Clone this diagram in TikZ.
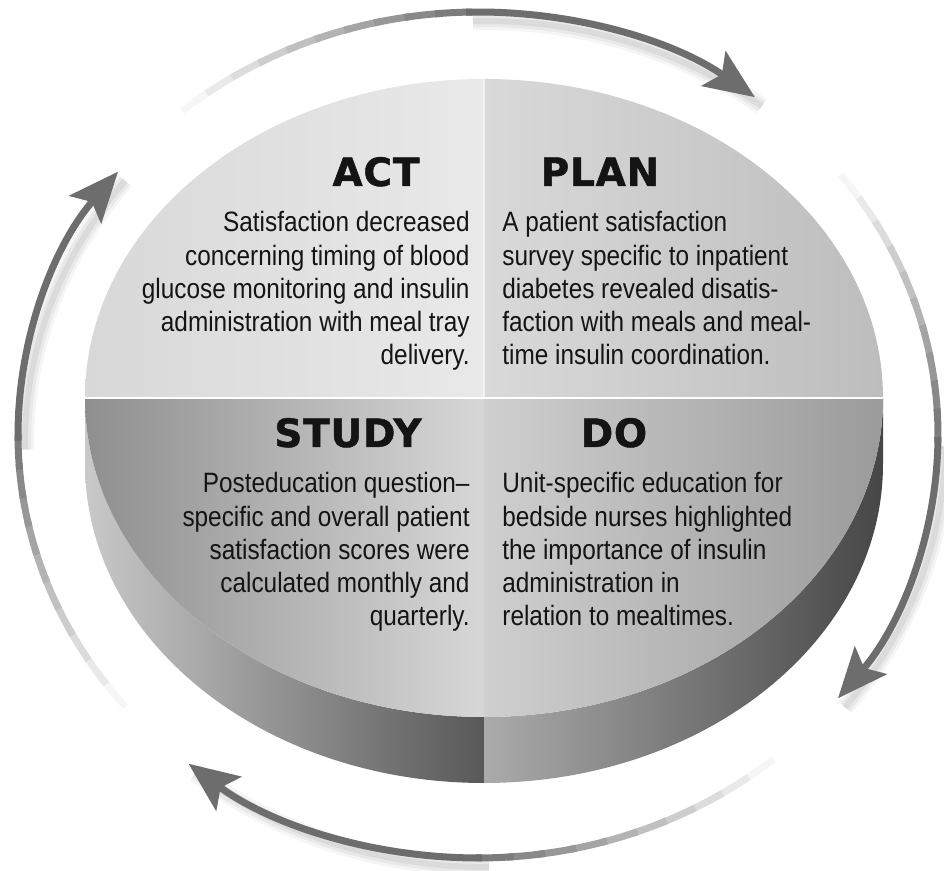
\documentclass[tikz,border=0pt]{standalone}
\usepackage{fontspec}
\setmainfont{Liberation Sans}[FakeStretch=0.87]
\newfontfamily\headfont{DejaVu Sans}[LetterSpace=2,BoldFeatures={FakeBold=1.2}]
\usetikzlibrary{arrows.meta,calc}

\definecolor{Ink}{HTML}{141414}
\definecolor{Loop}{HTML}{6D6D6D}
\definecolor{ActL}{HTML}{D8D8D8}
\definecolor{ActR}{HTML}{E9E9E9}
\definecolor{PlanL}{HTML}{D9D9D9}
\definecolor{PlanR}{HTML}{BDBDBD}
\definecolor{StudyL}{HTML}{8F8F8F}
\definecolor{StudyR}{HTML}{D7D7D7}
\definecolor{DoL}{HTML}{CFCFCF}
\definecolor{DoR}{HTML}{9B9B9B}
\definecolor{WallA}{HTML}{C9C9C9}
\definecolor{WallB}{HTML}{9A9A9A}
\definecolor{WallC}{HTML}{585858}
\definecolor{WallD}{HTML}{ABABAB}
\definecolor{WallE}{HTML}{9C9C9C}
\definecolor{WallF}{HTML}{464646}

\begin{document}
\begin{tikzpicture}[
  x=0.5pt,y=0.5pt,
  head/.style={font=\headfont\bfseries\fontsize{19.5}{22}\selectfont,text=Ink,inner sep=0pt},
  body/.style={font=\fontsize{14}{16.65}\selectfont,text=Ink,inner sep=0pt},
  loop/.style={line width=3.5pt},
  tip/.style={-{Stealth[length=25pt,width=21pt,inset=5pt]}},
  orbit/.style={x radius=460,y radius=423},
  rim/.style={x radius=399,y radius=319}
]
  \useasboundingbox (0,0) rectangle (944,871);
  \coordinate (hub) at (478,436);
  \coordinate (disc) at (484,473);

  % four arcs of the cycle, clockwise, each fading in from white
  \foreach \s/\e in {130/53, 38/-38.5, -50/-129, -140/-218.5}{
    \pgfmathsetmacro\m{\s+(\e-\s)/2}
    % soft shadow under the dark half
    \foreach \w/\o in {9/0.04, 6/0.05, 3/0.06}
      \draw[line width=\w pt,black,opacity=\o]
        ($(hub)+(7,-9)+(\m:460 and 423)$) arc[orbit,start angle=\m,end angle=\e];
    \foreach \i in {0,...,9}{
      \pgfmathsetmacro\a{\s+(\e-\s)*\i/20}
      \pgfmathsetmacro\b{\s+(\e-\s)*(\i+1.2)/20}
      \pgfmathtruncatemacro\p{6+9.4*\i}
      \draw[loop,Loop!\p] ($(hub)+(\a:460 and 423)$) arc[orbit,start angle=\a,end angle=\b];
    }
    \draw[loop,Loop,tip] ($(hub)+(\m:460 and 423)$) arc[orbit,start angle=\m,end angle=\e];
  }

  % side wall, cut in two at the front
  \shade[left color=WallA,middle color=WallB,right color=WallC]
    ($(disc)+(-399,0)$) -- ++(0,-66) arc[rim,start angle=180,end angle=270]
    -- ++(0,66) arc[rim,start angle=270,end angle=180] -- cycle;
  \shade[left color=WallD,middle color=WallE,right color=WallF]
    ($(disc)+(0,-319)$) -- ++(0,-66) arc[rim,start angle=270,end angle=360]
    -- ++(0,66) arc[rim,start angle=0,end angle=-90] -- cycle;

  % top face, one quarter per step
  \shade[left color=ActL,right color=ActR]
    (disc) -- ++(-399,0) arc[rim,start angle=180,end angle=90] -- cycle;
  \shade[left color=PlanL,right color=PlanR]
    (disc) -- ++(0,319) arc[rim,start angle=90,end angle=0] -- cycle;
  \shade[left color=StudyL,right color=StudyR]
    (disc) -- ++(-399,0) arc[rim,start angle=180,end angle=270] -- cycle;
  \shade[left color=DoL,right color=DoR]
    (disc) -- ++(0,-319) arc[rim,start angle=270,end angle=360] -- cycle;
  \draw[white,line width=0.8pt] ($(disc)+(-399,0)$) -- ($(disc)+(399,0)$);
  \draw[white,opacity=0.6,line width=0.8pt] (disc) -- ++(0,319);

  % headings
  \node[head,anchor=base] (act) at (376,685) {ACT};
  \node[head,anchor=base] (plan) at (600,685) {PLAN};
  \node[head,anchor=base] (study) at (348,424) {STUDY};
  \node[head,anchor=base] (do) at (614,424) {DO};

  % text of each step (base sits on the last line)
  \node[body,align=right,anchor=base east] (acttext) at (470,506)
    {Satisfaction decreased\\concerning timing of blood\\glucose monitoring and insulin\\administration with meal tray\\delivery.};
  \node[body,align=left,anchor=base west] (plantext) at (502,506)
    {A patient satisfaction\\survey specific to inpatient\\diabetes revealed disatis-\\faction with meals and meal-\\time insulin coordination.};
  \node[body,align=right,anchor=base east] (studytext) at (470,245)
    {Posteducation question--\\specific and overall patient\\satisfaction scores were\\calculated monthly and\\quarterly.};
  \node[body,align=left,anchor=base west] (dotext) at (502,245)
    {Unit-specific education for\\bedside nurses highlighted\\the importance of insulin\\administration in\\relation to mealtimes.};
\end{tikzpicture}
\end{document}
